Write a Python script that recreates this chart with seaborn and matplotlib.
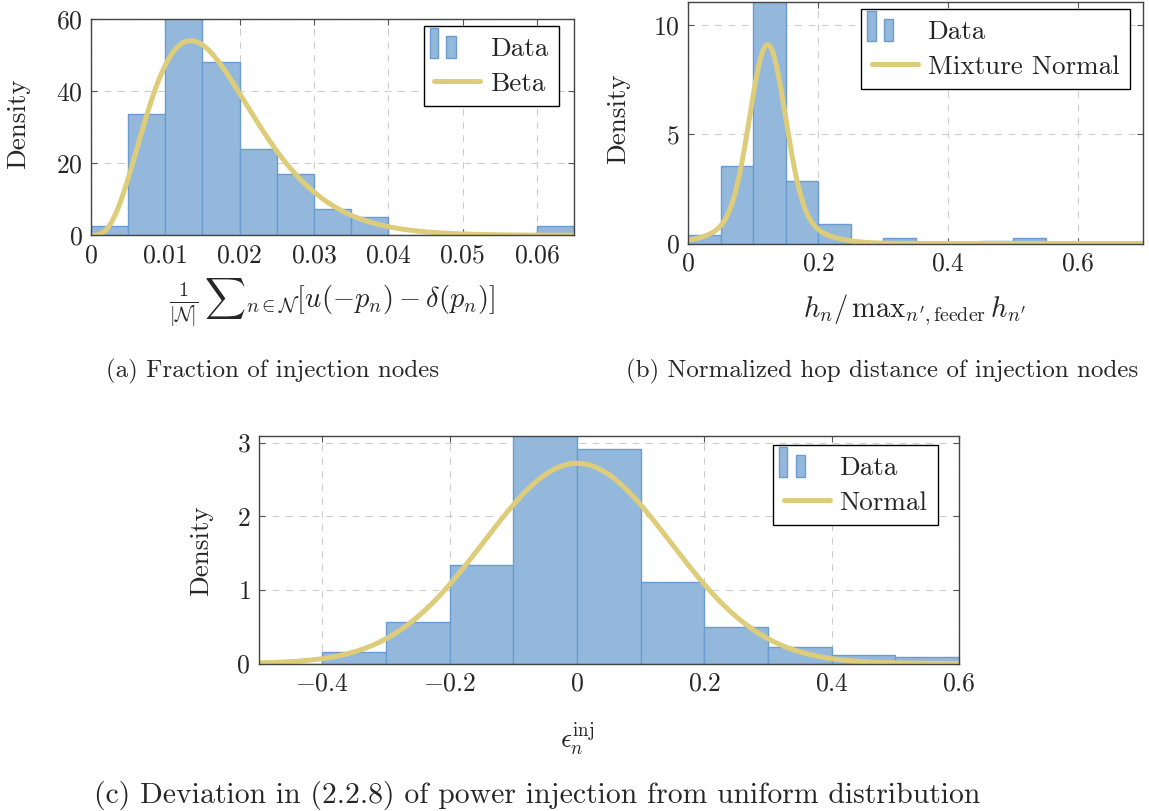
import math
import numpy as np
import pandas as pd
import matplotlib
matplotlib.use("Agg")
import matplotlib.pyplot as plt
from matplotlib.patches import Rectangle
from matplotlib.lines import Line2D
from matplotlib.legend_handler import HandlerBase
import seaborn as sns

# ---------------- data ----------------
# (a) Fraction of injection nodes
a_edges = [0.0, 0.005, 0.01, 0.015, 0.02, 0.025, 0.03, 0.035, 0.04,
           0.045, 0.05, 0.055, 0.06, 0.065]
a_density = [2.5, 33.7, 63.0, 48.1, 24.1, 17.0, 7.3, 5.0, 0.0,
             0.0, 0.0, 0.0, 2.5]
beta_a, beta_b = 4.4, 251.0
a_xticks = [0, 0.01, 0.02, 0.03, 0.04, 0.05, 0.06]
a_xticklabels = ["0", "0.01", "0.02", "0.03", "0.04", "0.05", "0.06"]
a_yticks = [0, 20, 40, 60]

# (b) Normalized hop distance of injection nodes
b_edges = [0.0, 0.05, 0.1, 0.15, 0.2, 0.25, 0.3, 0.35, 0.4, 0.45,
           0.5, 0.55, 0.6, 0.65, 0.7]
b_density = [0.37, 3.53, 11.74, 2.84, 0.90, 0.0, 0.25, 0.0, 0.0,
             0.12, 0.25, 0.0, 0.0, 0.0]
mix_means = [0.122, 0.122]
mix_sds = [0.0272, 0.06]
mix_weights = [0.539, 0.180]
b_xticks = [0, 0.2, 0.4, 0.6]
b_xticklabels = ["0", "0.2", "0.4", "0.6"]
b_yticks = [0, 5, 10]

# (c) Deviation of power injection from uniform distribution
c_edges = [-0.5, -0.4, -0.3, -0.2, -0.1, 0.0, 0.1, 0.2, 0.3, 0.4, 0.5, 0.6]
c_density = [0.0, 0.156, 0.564, 1.343, 3.2, 2.91, 1.11, 0.496, 0.22,
             0.115, 0.084]
norm_mean, norm_sd = 0.0, 0.1467
c_xticks = [-0.4, -0.2, 0, 0.2, 0.4, 0.6]
c_xticklabels = ["\u22120.4", "\u22120.2", "0", "0.2", "0.4", "0.6"]
c_yticks = [0, 1, 2, 3]

# ---------------- style ----------------
sns.set_theme(style="white")
plt.rcParams["font.family"] = ["serif"]
plt.rcParams["font.serif"] = ["cmr10"]
plt.rcParams["mathtext.fontset"] = "cm"
plt.rcParams["axes.formatter.use_mathtext"] = True

FILL = "#94b8dc"
EDGE = "#6a9bd1"
CURVE = "#ddcd7a"
FS_TICK = 18.5
FS = 19.5
LW = 3.6

W, H = 1149, 811
fig = plt.figure(figsize=(W / 100, H / 100), dpi=100)


def rect(l, t, r, b):
    return [l / W, 1 - b / H, (r - l) / W, (b - t) / H]


def fpt(x, y):
    return (x / W, 1 - y / H)


class HandlerTwoBars(HandlerBase):
    def create_artists(self, legend, orig_handle, xdescent, ydescent,
                       width, height, fontsize, trans):
        x0, y0 = -xdescent, -ydescent
        r1 = Rectangle((x0 - 0.1 * width, y0 - 0.1 * height), 0.18 * width,
                       1.55 * height, facecolor=FILL, edgecolor=EDGE, lw=1,
                       transform=trans)
        r2 = Rectangle((x0 + 0.26 * width, y0 - 0.1 * height), 0.2 * width,
                       1.15 * height, facecolor=FILL, edgecolor=EDGE, lw=1,
                       transform=trans)
        return [r1, r2]


def mask_text(s):
    if s.startswith("\u2212"):
        return "$-" + s[1:] + "$"
    return "$" + s + "$"


def panel(box, edges, dens, xs, ys, xlim, ylim, xticks, xticklabels, yticks,
          curve_label, leg_anchor, xlabel, xlabel_fs, xlabel_pos, ylabel_pos):
    ax = fig.add_axes(rect(*box))
    centers = [(edges[i] + edges[i + 1]) / 2 for i in range(len(edges) - 1)]
    df = pd.DataFrame({"x": centers, "w": dens})
    sns.histplot(data=df, x="x", weights="w", bins=edges, stat="count",
                 color=FILL, alpha=1, edgecolor=EDGE, linewidth=1, ax=ax)
    sns.lineplot(x=xs, y=ys, color=CURVE, linewidth=LW, ax=ax)
    ax.set_xlim(*xlim)
    ax.set_ylim(*ylim)
    ax.set_xticks(xticks)
    ax.set_xticklabels([mask_text(t) for t in xticklabels])
    ax.set_yticks(yticks)
    ax.set_yticklabels([mask_text(str(t)) for t in yticks])
    ax.tick_params(axis="both", which="major", direction="in", length=4,
                   width=0.8, color="#555555", labelsize=FS_TICK, pad=6,
                   top=True, right=True, bottom=True, left=True)
    ax.set_axisbelow(True)
    ax.grid(True, color="#cccccc", linestyle=(0, (6, 6)), linewidth=0.8)
    for sp in ax.spines.values():
        sp.set_color("#444444")
        sp.set_linewidth(1.0)
    ax.set_ylabel("Density", fontsize=FS)
    ax.yaxis.set_label_coords(*fpt(*ylabel_pos), transform=fig.transFigure)
    ax.yaxis.label.set_va("center")
    ax.set_xlabel(xlabel, fontsize=xlabel_fs)
    ax.xaxis.set_label_coords(*fpt(*xlabel_pos), transform=fig.transFigure)
    ax.xaxis.label.set_va("center")
    handles = [Rectangle((0, 0), 1, 1), Line2D([], [], color=CURVE, lw=LW)]
    leg = ax.legend(handles=handles, labels=["Data", curve_label],
                    handler_map={Rectangle: HandlerTwoBars()},
                    loc="upper right", bbox_to_anchor=fpt(*leg_anchor),
                    bbox_transform=fig.transFigure, borderaxespad=0,
                    frameon=True, fancybox=False, edgecolor="black",
                    framealpha=1, handlelength=1.7, handletextpad=0.35,
                    borderpad=0.4, labelspacing=0.4, fontsize=FS)
    leg.get_frame().set_linewidth(1.0)
    return ax


# (a)
xa = np.linspace(1e-6, 0.065, 500)
log_beta = math.lgamma(beta_a) + math.lgamma(beta_b) - math.lgamma(beta_a + beta_b)
ya = np.exp((beta_a - 1) * np.log(xa) + (beta_b - 1) * np.log1p(-xa) - log_beta)
panel((91, 19.3, 574, 235.3), a_edges, a_density, xa, ya, (0, 0.065), (0, 60),
      a_xticks, a_xticklabels, a_yticks, "Beta", (559, 26),
      r"$\frac{1}{|\mathcal{N}|}\,{\sum}_{n\in\mathcal{N}}[u(-p_n)-\delta(p_n)]$",
      20.5, (332, 303), (18, 124))

# (b)
xb = np.linspace(0, 0.7, 600)
yb = np.zeros_like(xb)
for m, s, w in zip(mix_means, mix_sds, mix_weights):
    yb += w * np.exp(-0.5 * ((xb - m) / s) ** 2) / (s * math.sqrt(2 * math.pi))
panel((688.3, 1.7, 1143.3, 243.5), b_edges, b_density, xb, yb, (0, 0.7),
      (0, 11.07), b_xticks, b_xticklabels, b_yticks, "Mixture Normal",
      (1130, 9), r"$h_n/\,\mathrm{max}_{n',\mathrm{feeder}}\,h_{n'}$", 20.5,
      (915, 310), (618, 119))

# (c)
xc = np.linspace(-0.5, 0.6, 600)
yc = np.exp(-0.5 * ((xc - norm_mean) / norm_sd) ** 2) / (norm_sd * math.sqrt(2 * math.pi))
panel((258.7, 436, 959, 663.5), c_edges, c_density, xc, yc, (-0.5, 0.6),
      (0, 3.09), c_xticks, c_xticklabels, c_yticks, "Normal", (938, 445),
      r"$\epsilon_n^{\mathrm{inj}}$", 19.5, (577, 740), (201, 551))

# captions
fig.text(*fpt(273, 371), "(a) Fraction of injection nodes", ha="center",
         va="center", fontsize=18)
fig.text(*fpt(882, 371), "(b) Normalized hop distance of injection nodes",
         ha="center", va="center", fontsize=18)
fig.text(*fpt(537, 795),
         "(c) Deviation in (2.2.8) of power injection from uniform distribution",
         ha="center", va="center", fontsize=21.4)

fig.savefig("out.png", dpi=100)
